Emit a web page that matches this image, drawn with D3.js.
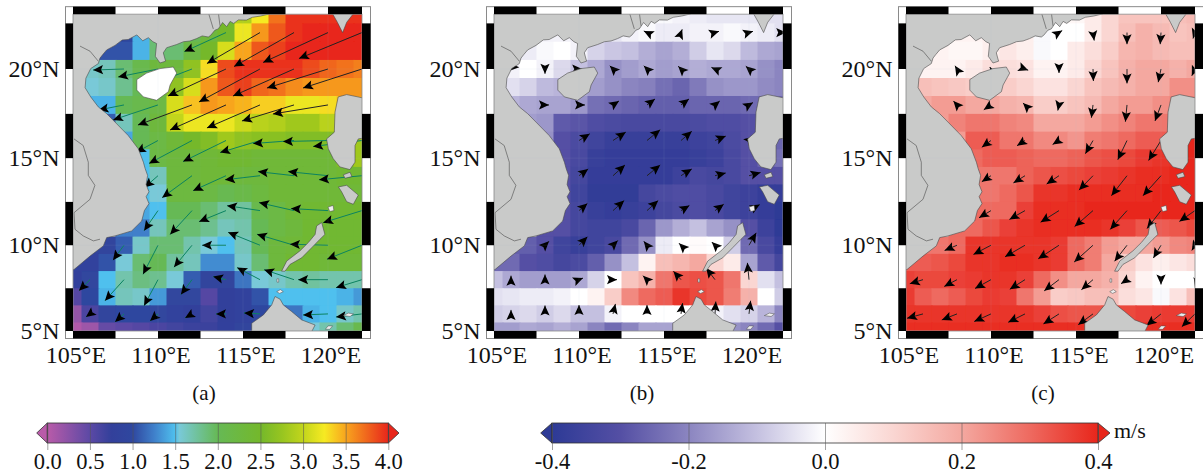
<!DOCTYPE html>
<meta charset="utf-8">
<script src="https://d3js.org/d3.v7.min.js"></script>
<style>
  html, body { margin: 0; padding: 0; background: #fff; overflow: hidden; }
  text { font-family: "Liberation Serif", serif; fill: #111; }
</style>
<body>
<svg width="1203" height="475"></svg>
<script>
    // cell centres: lon 105..122, lat 23..5
    var cellLons = d3.range(105, 123), cellLats = d3.range(23, 4, -1);
    // arrow tails: lon 106..122, lat 22..6
    var arrowLons = d3.range(106, 123, 2), arrowLats = d3.range(22, 5, -2);
    var _ = null;

    // (a) speed, m/s
    var gridA = [
      [_,_,_,_,_,_,_,_,2.2,2.3,2.9,3.25,3.7,3.95,3.95,3.95,3.95,3.95],
      [_,_,1,1,1.45,1.9,2,2,2.3,2.5,3.2,3.55,3.8,3.95,4,4,4,4],
      [_,1.1,1.05,1.05,1.45,1.9,1.9,2.2,2.5,3.1,3.5,3.8,3.9,4,4,4,4,4],
      [_,1.6,1.65,1.9,2.1,2.3,2.3,2.7,3.3,3.85,3.95,3.95,3.95,3.95,3.85,3.75,3.7,3.65],
      [1.55,1.55,1.6,1.8,2,2.2,2.7,3.1,3.55,3.8,3.9,3.75,3.7,3.6,3.55,3.55,3.55,3.55],
      [_,1.45,1.45,2,2.1,2.2,3.1,3.4,3.55,3.5,3.45,3.35,3.35,3.2,3.2,3.3,3.4,3.5],
      [_,_,1.1,1.65,2,2.3,3,3.2,3.2,3.2,3.05,2.95,2.9,2.8,2.8,2.95,2.95,_],
      [_,_,_,1.4,2,2.2,2.35,2.5,2.6,2.8,2.7,2.65,2.65,2.6,2.6,2.6,2.7,2.8],
      [_,_,_,_,1.5,2.2,2.3,2.3,2.35,2.4,2.4,2.35,2.35,2.35,2.35,2.35,2.6,2.8],
      [_,_,_,_,1.5,1.65,2.3,2.3,2.35,2.35,2.3,2.3,2.35,2.35,2.35,2.35,2.4,2.4],
      [_,_,_,_,1.5,1.55,2.25,2.25,2.2,2.05,2.15,2.25,2.35,2.35,2.35,2.35,2.35,2.35],
      [_,_,_,_,1.4,1.5,2,2,1.9,1.75,1.75,2.1,2.2,2.35,2.4,2.4,2.4,2.45],
      [_,_,_,1.25,1.25,1.65,1.9,1.9,1.8,1.65,1.7,2,2.2,2.3,2.4,2.4,2.4,2.4],
      [_,.9,.9,1.1,1.6,1.9,1.9,1.7,1.55,1.5,1.65,2,2.3,2.35,2.4,2.4,2.4,2.4],
      [.85,.85,1.05,1.55,1.9,2,1.75,1.65,1.3,1.3,1.6,1.9,2.3,2.4,2.4,2.35,2.35,2.35],
      [.8,.95,1.5,1.7,1.85,1.8,1.55,1.1,.9,.9,1.2,1.55,1.6,1.7,1.75,1.7,1.7,1.7],
      [.55,1,1.45,1.65,1.6,1.35,.95,.95,.55,.75,.85,1.05,1.5,1.5,1.5,1.5,1.45,1.35],
      [.2,.6,.9,1,1,.95,.85,.75,.65,.75,.85,1,1.1,1.2,1.45,1.5,1.6,1.7],
      [.05,.15,.45,.5,.55,.6,.65,.7,.7,.8,.9,1,1.1,1.3,1.55,1.7,1.9,2.1]
    ];
    // (b) anomaly, m/s
    var gridB = [
      [_,_,_,_,_,_,_,_,-.03,-.01,-.01,-.02,-.03,-.04,-.04,-.04,-.05,-.05],
      [_,_,-.03,-.02,-.02,-.03,-.04,-.04,-.02,-.01,-.03,-.03,-.02,-.02,-.01,-.02,-.03,-.05],
      [_,-.03,-.03,-.01,0,-.02,-.07,-.09,-.1,-.13,-.15,-.13,-.08,-.04,-.06,-.11,-.14,-.15],
      [_,-.02,0,-.02,-.06,-.1,-.14,-.18,-.16,-.14,-.16,-.15,-.13,-.14,-.14,-.15,-.18,-.2],
      [-.08,-.05,-.07,-.11,-.12,-.14,-.16,-.18,-.2,-.21,-.24,-.26,-.22,-.18,-.17,-.17,-.19,-.2],
      [_,-.12,-.14,-.15,-.15,-.17,-.24,-.25,-.26,-.27,-.27,-.27,-.26,-.26,-.26,-.25,-.25,-.25],
      [_,_,-.16,-.17,-.28,-.29,-.31,-.32,-.33,-.33,-.33,-.33,-.32,-.31,-.31,-.3,-.3,_],
      [_,_,_,-.18,-.3,-.32,-.35,-.37,-.37,-.37,-.37,-.37,-.36,-.35,-.32,-.3,-.28,-.26],
      [_,_,_,_,-.3,-.33,-.37,-.38,-.38,-.38,-.38,-.38,-.37,-.36,-.33,-.3,-.26,-.24],
      [_,_,_,_,-.3,-.34,-.38,-.38,-.38,-.38,-.38,-.36,-.33,-.34,-.33,-.3,-.3,-.3],
      [_,_,_,_,-.3,-.35,-.39,-.39,-.39,-.34,-.32,-.31,-.31,-.33,-.35,-.36,-.38,-.38],
      [_,_,_,_,-.3,-.34,-.37,-.38,-.37,-.36,-.34,-.32,-.31,-.33,-.35,-.36,-.38,-.4],
      [_,_,_,-.3,-.3,-.34,-.35,-.35,-.33,-.26,-.17,-.13,-.1,-.15,-.18,-.3,-.36,-.4],
      [_,-.27,-.27,-.3,-.35,-.37,-.35,-.33,-.25,-.18,-.03,0,.01,0,-.08,-.25,-.33,-.38],
      [-.25,-.25,-.3,-.31,-.34,-.32,-.27,-.18,-.1,.03,.15,.17,.2,.1,.05,-.15,-.28,-.34],
      [-.1,-.14,-.16,-.16,-.16,-.14,-.07,0,.14,.18,.28,.33,.34,.33,.28,.1,-.05,-.1],
      [-.05,-.04,-.03,-.03,-.02,0,.03,.12,.25,.3,.32,.38,.35,.33,.27,.18,0,-.08],
      [-.08,-.07,-.06,-.08,-.06,-.1,-.1,-.02,0,0,0,0,0,-.02,-.05,-.07,-.12,-.2],
      [-.16,-.16,-.14,-.15,-.13,-.15,-.2,-.25,-.2,-.15,-.15,-.15,-.1,-.1,-.18,-.2,-.25,-.3]
    ];
    // (c) anomaly, m/s
    var gridC = [
      [_,_,_,_,_,_,_,_,.05,.02,.02,.05,.1,.14,.14,.14,.15,.16],
      [_,_,.04,.03,.03,.04,.04,.04,-.01,0,0,.05,.1,.15,.18,.16,.14,.15],
      [_,.03,.03,.02,.02,.04,.06,.04,-.01,0,.05,.08,.12,.17,.18,.16,.15,.15],
      [_,.03,.03,.03,.05,.08,.08,.07,.03,.03,.05,.1,.14,.18,.2,.2,.18,.2],
      [.16,.15,.14,.13,.12,.12,.12,.1,.07,.07,.1,.14,.16,.18,.2,.2,.24,.24],
      [_,.2,.22,.22,.2,.2,.18,.17,.12,.12,.14,.16,.2,.22,.22,.24,.26,.26],
      [_,_,.22,.26,.28,.28,.26,.25,.2,.2,.2,.22,.24,.26,.28,.28,.28,_],
      [_,_,_,.22,.32,.32,.28,.28,.25,.25,.23,.27,.28,.3,.32,.32,.38,.4],
      [_,_,_,_,.3,.32,.32,.31,.3,.3,.31,.33,.34,.35,.37,.38,.39,.4],
      [_,_,_,_,.28,.28,.28,.31,.33,.34,.35,.36,.37,.38,.39,.39,.4,.4],
      [_,_,_,_,.28,.28,.3,.33,.38,.38,.39,.39,.39,.39,.39,.4,.4,.4],
      [_,_,_,_,.3,.3,.3,.36,.39,.39,.39,.4,.4,.4,.4,.4,.4,.4],
      [_,_,_,.3,.3,.33,.36,.38,.39,.39,.39,.39,.38,.36,.33,.32,.33,.35],
      [_,.28,.28,.3,.38,.38,.38,.38,.38,.37,.3,.27,.22,.2,.2,.22,.25,.26],
      [.32,.32,.33,.35,.38,.38,.39,.39,.38,.37,.3,.27,.2,.12,.07,.04,.06,.08],
      [.36,.35,.35,.36,.37,.38,.38,.36,.3,.24,.2,.2,.18,.1,.03,0,0,0],
      [.37,.32,.3,.32,.35,.37,.36,.28,.22,.12,.13,.15,.15,.08,.06,-.01,.07,.15],
      [.38,.38,.38,.38,.38,.38,.38,.38,.36,.34,.33,.33,.33,.35,.36,.37,.37,.37],
      [.39,.39,.39,.39,.39,.39,.39,.39,.39,.39,.39,.39,.39,.39,.39,.39,.39,.39]
    ];

    // eastward / northward components, m/s
    var uA = [
      [_,_,_,_,-2.45,-3.12,-3.53,-3.82,-3.71],
      [_,-1.82,-2.35,-2.35,-3.41,-3.59,-3.59,-3.59,-3.47],
      [_,-1.5,-2.65,-3.18,-3.29,-3.12,-3.06,-3.24,_],
      [_,_,-1.3,-2.53,-2.53,-2.35,-2.41,-2.65,-2.88],
      [_,_,-.8,-1.76,-1.94,-2.06,-2.12,-2.35,-2.53],
      [_,_,-.82,-1.29,-1.59,-1.94,-2.06,-2.18,-2.29],
      [_,-.65,-.88,-1.06,-1.41,-1.88,-2.18,-2.24,-2.06],
      [-.65,-1.12,-.82,-.65,-.76,-1.35,-1.76,-1.76,-1.53],
      [-.24,-.53,-.47,-.41,-.59,-.94,_,-1.47,-1.53]
    ];
    var vA = [
      [_,_,_,_,-1.12,-1.82,-2,-1.76,-1.53],
      [_,-.06,-.47,-.9,-1.59,-1.94,-1.59,-1.12,-1.12],
      [_,-.3,-.88,-1.18,-1.47,-1.35,-.94,-.53,_],
      [_,_,-.7,-1.35,-1.24,-.71,-.18,-.06,-.35],
      [_,_,-.7,-1.29,-.88,-.24,.24,.24,-.24],
      [_,_,-1.18,-1.41,-.65,.29,.47,.12,-.71],
      [_,-.88,-1.71,-1.29,0,.76,.65,.06,-.82],
      [-.65,-1.24,-1.53,-.88,.18,.71,.59,0,-.47],
      [-.18,-.47,-.41,-.24,0,.06,_,-.06,-.18]
    ];
    var uB = [
      [_,_,_,_,-.08,.03,.1,.1,.08],
      [-.05,0,.08,-.08,-.08,-.07,-.09,-.08,_],
      [_,.1,.15,.15,.2,.2,.12,.1,_],
      [_,.05,.27,.32,.33,.27,.27,.12,_],
      [_,_,.23,.3,.33,.27,.27,.29,_],
      [_,_,.21,.28,.28,.21,.22,.27,_],
      [_,.1,.21,.12,-.08,-.05,-.08,.18,_],
      [0,0,.1,.1,-.1,-.19,-.22,-.04,_],
      [0,0,0,.06,0,.04,.02,.04,_]
    ];
    var vB = [
      [_,_,_,_,.04,.08,.03,.03,0],
      [-.05,-.12,0,.08,.08,.07,.04,.07,_],
      [_,0,0,.1,.15,.15,.1,.06,_],
      [_,.04,.17,.21,.27,.23,.11,.1,_],
      [_,_,.17,.27,.27,.17,.07,.08,_],
      [_,_,.18,.25,.25,.13,.16,.15,_],
      [_,.1,.21,.12,.1,.05,.08,.31,_],
      [.1,.13,.04,0,.1,.21,.29,.42,_],
      [.1,.21,.22,.25,.22,.27,.31,.33,_]
    ];
    var uC = [
      [_,_,_,_,.08,.03,0,-.02,-.05],
      [_,-.05,-.03,.08,0,.01,0,-.07,-.08],
      [_,-.09,-.18,-.05,-.03,-.04,-.04,-.15,_],
      [_,_,-.23,-.2,-.16,-.19,-.23,-.31,_],
      [_,_,-.23,-.29,-.31,-.35,-.39,-.45,_],
      [_,_,-.3,-.39,-.46,-.46,-.42,-.35,-.39],
      [_,-.31,-.44,-.5,-.52,-.47,-.31,-.19,-.08],
      [-.33,-.32,-.4,-.38,-.37,-.29,-.15,0,-.03],
      [-.4,-.38,-.42,-.42,-.39,-.37,_,-.36,-.33]
    ];
    var vC = [
      [_,_,_,_,.05,-.2,-.29,-.29,-.15],
      [_,.08,.05,-.03,-.1,-.3,-.36,-.33,-.17],
      [_,.1,-.12,.05,-.14,-.32,-.42,-.4,_],
      [_,_,-.17,-.13,-.1,-.33,-.48,-.5,_],
      [_,_,-.15,-.18,-.21,-.36,-.5,-.5,_],
      [_,_,-.18,-.22,-.29,-.4,-.47,-.45,-.27],
      [_,-.13,-.23,-.29,-.34,-.42,-.4,-.32,-.13],
      [-.1,-.17,-.22,-.24,-.28,-.25,-.1,-.12,.05],
      [-.11,-.15,-.19,-.21,-.25,-.27,_,-.29,-.32]
    ];

    // coastlines, [lon, lat]
    var mainland = [[116.59,23.02],[116.05,22.9],[115.55,22.83],[115.2,22.68],[114.73,22.69],[114.45,22.5],[114.24,22.61],[114.04,22.32],[113.8,22.55],[113.55,22.2],[113.35,22.13],[113.1,21.85],[112.96,21.76],[112.6,21.82],[112.27,21.67],[111.88,21.54],[111.5,21.5],[111.1,21.35],[110.51,21.17],[110.31,20.89],[110.45,20.43],[110.12,20.33],[109.84,20.7],[109.92,21.4],[109.7,21.5],[109.43,21.72],[109.1,21.55],[108.75,21.87],[108.25,21.62],[107.9,21.6],[107.47,21.3],[106.98,21.05],[106.75,20.8],[106.59,20.6],[106.49,20.3],[106.04,20.02],[105.76,19.49],[105.71,18.96],[106.04,18.45],[106.49,17.89],[106.98,17.51],[107.47,17.04],[108.25,16.28],[108.84,15.53],[109.14,14.77],[109.25,14.4],[109.39,14.02],[109.3,13.5],[109.47,13.08],[109.3,12.8],[109.47,12.4],[109.2,12],[109.04,11.4],[108.45,10.83],[107.47,10.54],[106.98,10.44],[106.78,9.96],[106,9.37],[105.41,8.88],[105.06,8.59],[104.5,8.5],[104,8.5],[104,24],[116.59,24]];
    var hainan = [[108.75,19.41],[109.33,19.77],[110.12,20.02],[110.9,20.11],[111.1,19.77],[110.71,19.11],[110.61,18.74],[109.92,18.26],[109.14,18.45],[108.75,18.83]];
    var taiwan = [[120.2,23.4],[120.27,23.02],[120.55,22.56],[120.86,22],[121.1,22.56],[121.49,23.02],[121.6,23.4]];
    var luzon = [[122.5,18.5],[122.02,18.4],[121.1,18.58],[120.6,18.45],[120.41,17.6],[120.37,16.47],[119.92,16.09],[120.02,15.53],[120.31,14.96],[120.7,14.5],[121.29,14.35],[121.59,14.77],[121.59,15.72],[121.78,16.09],[122.5,16.19]];
    var lubang = [[120.9,14.05],[121.3,14.2],[121.4,13.95],[121,13.85]];
    var mindoro = [[120.61,13.36],[121.1,13.45],[121.78,12.89],[121.49,12.36],[121.1,12.51],[120.8,13.08]];
    var palawan = [[117.27,8.49],[117.57,9.08],[118.35,9.67],[118.84,10.15],[119.24,10.63],[119.33,11.12],[119.63,11.31],[119.82,10.63],[119.53,10.35],[119.04,9.86],[118.45,9.27],[117.76,8.88],[117.47,8.49]];
    var borneo = [[115.51,5.45],[116.2,5.94],[116.69,6.53],[116.88,7.02],[117.18,6.86],[117.37,6.53],[117.86,6.14],[118.45,5.65],[119.24,5.35],[119.04,4.96],[119.1,4.6],[115.51,4.6]];
    var smallIslands = [
      [[116.98,7.3],[117.2,7.42],[117.37,7.3],[117.15,7.2]],
      [[117,8.05],[117.1,8.05],[117.1,7.85],[117,7.85]],
      [[120.9,5.9],[121.2,6.05],[121.5,6],[121.3,5.85]],
      [[119.85,5.1],[120,5.3],[120.27,5.3],[120.1,5.1]],
      [[120,12.2],[120.3,12.3],[120.35,12],[120.1,11.95]]
    ];
    var borders = [
      [[105.41,21.26],[106,20.98],[106.49,20.43]],
      [[105.06,16.09],[105.6,15.72],[105.9,14.77],[105.9,14.02],[106.29,13.45],[106,12.65],[105.06,11.88],[105.12,10.92],[105.6,10.54],[106.2,10.25],[106.59,10.35]],
      [[112.96,23.1],[113.25,22.2]],
      [[113.55,23.1],[113.65,22.37]]
    ];

    var lonTicks = [105, 110, 115, 120], latTicks = [20, 15, 10, 5];
    var speedTicks = [0, .5, 1, 1.5, 2, 2.5, 3, 3.5, 4];
    var anomalyTicks = [-.4, -.2, 0, .2, .4];

    var speedDomain = [0, .5, .75, 1, 1.25, 1.5, 1.55, 2, 2.5, 2.75, 3, 3.25, 3.5, 4];
    var speedColors = ["#b95ba9","#5c49a5","#33409b","#2f479f","#3f7fca","#4fc0ee","#79c9d8","#66b955","#74b82b","#97c520","#c2d51c","#f6ea22","#f8a51e","#e8261b"];
    var anomalyDomain = [-.4, -.3, -.2, -.1, 0, .1, .2, .3, .4];
    var anomalyColors = ["#2d3a96","#544fa4","#8b85c0","#c4c0e0","#ffffff","#fad6d2","#f4a8a0","#ee6a60","#e8261b"];

    var speedColor = d3.scaleLinear().domain(speedDomain).range(speedColors).clamp(true);
    var anomalyColor = d3.scaleLinear().domain(anomalyDomain).range(anomalyColors).clamp(true);

    var landGray = "#c9cac9", coast = "#4a4a4a";
    var lonMin = 105, lonMax = 122, latMin = 5, latMax = 23;

    // 5 degrees of longitude is 85px in the picture, the map is Mercator
    var projection = d3.geoMercator().scale(85 / 5 * 180 / Math.PI).translate([0, 0]);
    var corner = projection([lonMin, latMin]);
    projection.translate([73 - corner[0], 331 - corner[1]]);

    var svg = d3.select("svg");
    var defs = svg.append("defs");
    defs.append("filter").attr("id", "soft").attr("x", "-2%").attr("y", "-2%").attr("width", "104%").attr("height", "104%")
        .append("feGaussianBlur").attr("stdDeviation", 0.4);

    function polygon(ring) {
        // plain planar ring, keeps d3 from treating it as a spherical polygon
        return "M" + ring.map(function(p) { return projection(p).map(function(v) { return v.toFixed(1); }).join(","); }).join("L") + "Z";
    }
    function polyline(line) {
        return "M" + line.map(function(p) { return projection(p).map(function(v) { return v.toFixed(1); }).join(","); }).join("L");
    }

    function drawPanel(id, dx, grid, color, us, vs, pxPerMs, islandFill, label, labelX) {
        var g = svg.append("g").attr("transform", "translate(" + dx + ",0)");
        var tl = projection([lonMin, latMax]), br = projection([lonMax, latMin]);

        defs.append("clipPath").attr("id", "clip" + id).append("rect")
            .attr("x", tl[0]).attr("y", tl[1]).attr("width", br[0] - tl[0]).attr("height", br[1] - tl[1]);

        var map = g.append("g").attr("clip-path", "url(#clip" + id + ")");
        var inner = map.append("g").attr("filter", "url(#soft)");
        inner.append("rect").attr("x", tl[0] - 3).attr("y", tl[1] - 3)
            .attr("width", br[0] - tl[0] + 6).attr("height", br[1] - tl[1] + 6).attr("fill", landGray);

        // cells, a little overlap so no seams show
        var cells = [];
        grid.forEach(function(row, r) {
            row.forEach(function(v, c) {
                if (v !== null) cells.push({lon: cellLons[c], lat: cellLats[r], v: v});
            });
        });
        inner.selectAll("rect.cell").data(cells).enter().append("rect").attr("class", "cell")
            .attr("x", function(d) { return projection([d.lon - .5, d.lat])[0]; })
            .attr("y", function(d) { return projection([d.lon, d.lat + .5])[1]; })
            .attr("width", function(d) { return projection([d.lon + .5, d.lat])[0] - projection([d.lon - .5, d.lat])[0] + 1; })
            .attr("height", function(d) { return projection([d.lon, d.lat - .5])[1] - projection([d.lon, d.lat + .5])[1] + 1; })
            .attr("fill", function(d) { return color(d.v); });

        // arrows, tail on the grid point
        var arrows = [];
        us.forEach(function(row, r) {
            row.forEach(function(u, c) {
                if (u !== null) arrows.push({lon: arrowLons[c], lat: arrowLats[r], u: u, v: vs[r][c]});
            });
        });
        var ag = inner.selectAll("g.arrow").data(arrows).enter().append("g").attr("class", "arrow");
        ag.each(function(d) {
            var t = projection([d.lon, d.lat]);
            var ex = d.u * pxPerMs, ey = -d.v * pxPerMs;
            var len = Math.sqrt(ex * ex + ey * ey) || 1;
            var ux = ex / len, uy = ey / len;
            var tip = [t[0] + ex, t[1] + ey];
            var headLen = 10, headW = 4.6;
            var a = [tip[0] - ux * headLen - uy * headW, tip[1] - uy * headLen + ux * headW];
            var b = [tip[0] - ux * headLen + uy * headW, tip[1] - uy * headLen - ux * headW];
            var n = [tip[0] - ux * headLen * .8, tip[1] - uy * headLen * .8];
            var speed = Math.sqrt(d.u * d.u + d.v * d.v);
            var lineColor = id == "a" && speed < 3 ? "#0b8360" : "#222";
            d3.select(this).append("line")
                .attr("x1", t[0]).attr("y1", t[1]).attr("x2", tip[0]).attr("y2", tip[1])
                .attr("stroke", lineColor).attr("stroke-width", 1);
            d3.select(this).append("path")
                .attr("d", "M" + [tip, a, n, b].join("L") + "Z")
                .attr("fill", "#000");
        });

        // land goes over the arrows
        var landFill = [mainland, taiwan, luzon, lubang, mindoro, palawan, borneo];
        inner.selectAll("path.land").data(landFill).enter().append("path").attr("class", "land")
            .attr("d", polygon).attr("fill", landGray).attr("stroke", coast).attr("stroke-width", .6);
        inner.append("path").attr("d", polygon(hainan)).attr("fill", islandFill).attr("stroke", coast).attr("stroke-width", .6);
        inner.selectAll("path.islet").data(smallIslands).enter().append("path").attr("class", "islet")
            .attr("d", polygon).attr("fill", "#eee").attr("stroke", coast).attr("stroke-width", .5);
        inner.selectAll("path.border").data(borders).enter().append("path").attr("class", "border")
            .attr("d", polyline).attr("fill", "none").attr("stroke", coast).attr("stroke-width", .6);

        // faint graticule
        lonTicks.forEach(function(l) {
            map.append("path").attr("d", polyline([[l, latMin], [l, latMax]]))
                .attr("stroke", "#aab4cc").attr("stroke-opacity", .2).attr("stroke-width", .5);
        });
        latTicks.forEach(function(l) {
            map.append("path").attr("d", polyline([[lonMin, l], [lonMax, l]]))
                .attr("stroke", "#aab4cc").attr("stroke-opacity", .2).attr("stroke-width", .5);
        });

        // checkered frame
        var fw = 7.5;
        var frame = g.append("g");
        frame.append("rect").attr("x", tl[0] - fw).attr("y", tl[1] - fw)
            .attr("width", br[0] - tl[0] + 2 * fw + 1).attr("height", br[1] - tl[1] + 2 * fw)
            .attr("fill", "none").attr("stroke", "#8a8a8a").attr("stroke-width", 1);
        frame.append("rect").attr("x", tl[0]).attr("y", tl[1])
            .attr("width", br[0] - tl[0]).attr("height", br[1] - tl[1])
            .attr("fill", "none").attr("stroke", "#8a8a8a").attr("stroke-width", .8);

        d3.range(lonMin, lonMax, 5).forEach(function(l) {
            var x0 = projection([l, latMin])[0], x1 = projection([Math.min(l + 2.5, lonMax), latMin])[0];
            [tl[1] - fw, br[1]].forEach(function(y) {
                frame.append("rect").attr("x", x0).attr("y", y).attr("width", x1 - x0).attr("height", fw).attr("fill", "#000");
            });
        });
        d3.range(latMin, latMax, 5).forEach(function(l) {
            var y0 = projection([lonMin, Math.min(l + 2.5, latMax)])[1], y1 = projection([lonMin, l])[1];
            [tl[0] - fw, br[0]].forEach(function(x) {
                frame.append("rect").attr("x", x).attr("y", y0).attr("width", fw + (x > tl[0] ? 1 : 0)).attr("height", y1 - y0).attr("fill", "#000");
            });
        });

        // tick labels
        g.selectAll("text.lon").data(lonTicks).enter().append("text").attr("class", "lon")
            .attr("x", function(d) { return projection([d, latMin])[0] + 3; }).attr("y", 363)
            .attr("text-anchor", "middle").attr("font-size", 24)
            .text(function(d) { return d + "°E"; });
        g.selectAll("text.lat").data(latTicks).enter().append("text").attr("class", "lat")
            .attr("x", 59.5).attr("y", function(d) { return projection([lonMin, d])[1] + 8; })
            .attr("text-anchor", "end").attr("font-size", 24)
            .text(function(d) { return d + "°N"; });

        svg.append("text").attr("x", labelX).attr("y", 400).attr("text-anchor", "middle")
            .attr("font-size", 21).text(label);
    }

    drawPanel("a", 0, gridA, speedColor, uA, vA, 17, "#ffffff", "(a)", 204);
    drawPanel("b", 421, gridB, anomalyColor, uB, vB, 40, landGray, "(b)", 642);
    drawPanel("c", 833, gridC, anomalyColor, uC, vC, 40, landGray, "(c)", 1043);

    function colorbar(id, x0, x1, domain, colors, ticks, tipL, tipR) {
        var y0 = 423, y1 = 443;
        var scale = d3.scaleLinear().domain([ticks[0], ticks[ticks.length - 1]]).range([x0, x1]);
        var grad = defs.append("linearGradient").attr("id", id);
        domain.forEach(function(d, i) {
            grad.append("stop").attr("offset", (d - ticks[0]) / (ticks[ticks.length - 1] - ticks[0]))
                .attr("stop-color", colors[i]);
        });
        var g = svg.append("g");
        g.append("path").attr("d", "M" + x0 + "," + y0 + "L" + tipL + "," + (y0 + y1) / 2 + "L" + x0 + "," + y1 + "Z")
            .attr("fill", colors[0]).attr("stroke", "#333").attr("stroke-width", .8);
        g.append("path").attr("d", "M" + x1 + "," + y0 + "L" + tipR + "," + (y0 + y1) / 2 + "L" + x1 + "," + y1 + "Z")
            .attr("fill", colors[colors.length - 1]).attr("stroke", "#333").attr("stroke-width", .8);
        g.append("rect").attr("x", x0).attr("y", y0).attr("width", x1 - x0).attr("height", y1 - y0)
            .attr("fill", "url(#" + id + ")").attr("stroke", "#333").attr("stroke-width", .8);

        var axis = d3.axisBottom(scale).tickValues(ticks).tickSize(27).tickPadding(3)
            .tickFormat(function(d) { return d.toFixed(1); });
        var ag = g.append("g").attr("transform", "translate(0," + y0 + ")").call(axis);
        ag.select(".domain").remove();
        ag.selectAll("line").attr("stroke", "#555").attr("stroke-opacity", .55).attr("stroke-width", 1);
        // hold the labels a little up so their box stays inside the 475px window
        ag.selectAll("text").attr("font-size", 22.5).attr("font-family", null);
        return g;
    }

    colorbar("barSpeed", 47.3, 388.3, speedDomain, speedColors, speedTicks, 36.7, 399);
    var bar2 = colorbar("barAnom", 552, 1098, anomalyDomain, anomalyColors, anomalyTicks, 540.7, 1110);
    bar2.append("text").attr("x", 1114).attr("y", 438).attr("font-size", 22).text("m/s");
</script>
</body>
